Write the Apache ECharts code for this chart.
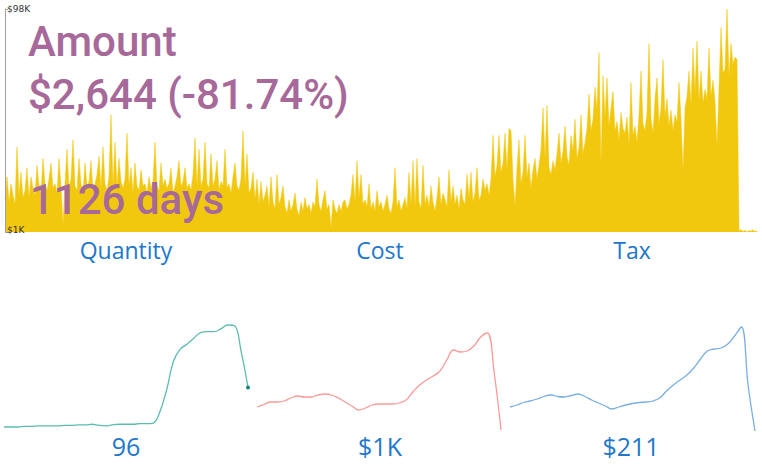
<!DOCTYPE html>
<html><head><meta charset="utf-8">
<script src="https://cdn.jsdelivr.net/npm/echarts@6/dist/echarts.min.js"></script>
<style>html,body{margin:0;padding:0;background:#fff}#c{width:762px;height:466px}</style>
</head><body><div id="c"></div>
<script>
// Daily amount (in $K), one sample per ~1.5 days over 1126 days
const amountK = [
15,25,14,22,17,13,38,17,27,16,
19,29,16,25,20,17,30,21,18,33,
22,19,24,31,20,22,18,33,21,4,
22,37,20,24,41,21,19,33,22,18,
31,21,23,32,19,22,26,34,20,38,
22,19,25,52,21,40,21,33,23,20,
24,44,21,29,18,31,21,19,28,21,
22,18,25,20,23,40,21,19,31,21,
24,20,22,29,18,21,25,32,21,23,
29,20,22,19,26,42,21,37,21,24,
40,22,20,35,21,24,32,19,23,21,
37,20,22,18,25,31,21,19,24,45,
21,35,18,20,27,15,24,13,23,14,
17,21,12,25,14,11,26,13,16,21,
12,9,15,10,13,18,11,8,14,10,
16,11,13,9,14,12,24,13,10,15,
19,11,13,3,15,11,9,13,10,14,
15,11,13,17,26,14,32,16,26,13,
15,12,22,11,14,10,19,12,14,10,
13,17,11,9,14,29,12,15,10,13,
16,11,27,13,32,12,33,14,11,30,
13,17,12,21,14,10,16,25,13,18,
15,12,28,14,21,13,17,11,20,15,
13,26,16,27,14,18,29,15,17,24,
19,22,17,24,43,25,30,43,27,31,
44,28,46,45,24,12,29,41,22,27,
43,25,31,20,28,33,24,30,37,55,
33,56,29,26,32,28,35,44,31,36,
47,34,30,43,36,50,33,38,52,35,
40,46,61,45,50,64,54,79,30,69,
51,68,47,55,62,45,49,41,53,46,
44,51,39,66,43,47,40,52,71,48,
45,53,83,50,44,59,68,48,55,76,
51,59,47,54,45,52,49,66,50,27,
55,60,71,56,81,62,84,58,71,57,
63,59,81,60,67,58,38,64,90,70,
72,98,69,83,74,77,76,
1.4,2.1,1.2,1.8,1.0,1.6,1.3,2.0,1.2,1.5
];
const amountTicks = [1, 98];

// Monthly sparklines (37 months)
const quantity = [24,24,24,25,25,26,26,26,26,27,27,28,28,29,27,26,28,29,29,29,30,30,31,52,92,144,166,175,186,196,198,198,203,210,209,161,96];
const cost = [5220,5670,6120,6120,6300,6840,7200,7020,7020,7380,7560,7380,6840,6120,5400,4680,5040,5580,5760,5760,5760,5940,6480,7920,9180,10080,10800,11700,13680,15480,15120,15300,16200,17820,18540,11340,1080];
const tax = [1080,1152,1242,1296,1368,1458,1512,1458,1440,1494,1548,1458,1332,1224,1116,1008,1080,1152,1206,1242,1260,1296,1404,1656,1872,2052,2232,2484,2808,3096,3168,3204,3348,3636,3960,1836,216];

const panelTitles = ['Quantity', 'Cost', 'Tax'];
const panelValues = ['96', '$1K', '$211'];
const headline = ['Amount', '$2,644 (-81.74%)', '1126 days'];

const dayIdx = amountK.map((_, i) => i);
const monthIdx = quantity.map((_, i) => i);

const chart = echarts.init(document.getElementById('c'), null, {renderer: 'svg'});
const purple = '#A66999', blue = '#2177CC';
const sparkAxisX = (g) => ({type: 'category', gridIndex: g, data: monthIdx, boundaryGap: false, show: false});
const sparkAxisY = (g) => ({type: 'value', gridIndex: g, min: 'dataMin', max: 'dataMax', show: false, scale: true});
const head = (i, x, y) => ({type: 'text', x: x, y: y, z: 100,
  style: {text: headline[i], fontFamily: 'Roboto', fontWeight: 500, fontSize: 42, fill: purple, verticalAlign: 'middle'}});
const lbl = (t, x, y, fs) => ({type: 'text', x: x, y: y, z: 100,
  style: {text: t, fontFamily: 'Open Sans', fontSize: fs, fill: blue, align: 'center', verticalAlign: 'middle'}});

chart.setOption({
  animation: false,
  grid: [
    {left: 5, right: 5, top: 9, bottom: 234},
    {left: 4, width: 244, top: 325, height: 102},
    {left: 257, width: 244, top: 333, height: 97},
    {left: 510, width: 245, top: 327, height: 104}
  ],
  xAxis: [
    {type: 'category', gridIndex: 0, data: dayIdx, boundaryGap: false, show: false},
    sparkAxisX(1), sparkAxisX(2), sparkAxisX(3)
  ],
  yAxis: [
    {type: 'value', gridIndex: 0, min: 1, max: 98, z: 50,
     axisLine: {show: true, lineStyle: {color: '#a0a0a0', width: 1}},
     axisTick: {show: true, inside: true, length: 3, customValues: amountTicks, lineStyle: {color: '#a0a0a0'}},
     splitLine: {show: false},
     axisLabel: {inside: true, margin: 2, customValues: amountTicks, fontSize: 9, color: '#333',
       fontFamily: 'DejaVu Sans',
       formatter: v => v === 1 ? '{b|$' + v + 'K}' : '{t|$' + v + 'K}',
       rich: {b: {fontSize: 9, padding: [0, 0, 5, 0], color: '#333', fontFamily: 'DejaVu Sans'},
              t: {fontSize: 9, color: '#333', fontFamily: 'DejaVu Sans'}}}},
    sparkAxisY(1), sparkAxisY(2), sparkAxisY(3)
  ],
  series: [
    {type: 'line', xAxisIndex: 0, yAxisIndex: 0, data: amountK, showSymbol: false, symbol: 'none',
     sampling: null, lineStyle: {width: 0.5, color: '#F2C80F'}, areaStyle: {color: '#F2C80F', opacity: 1}, z: 1, silent: true},
    {type: 'line', xAxisIndex: 1, yAxisIndex: 1, data: quantity, smooth: 0.4, clip: false, silent: true,
     symbol: 'circle', symbolSize: (v, p) => p.dataIndex === quantity.length - 1 ? 4 : 0,
     showAllSymbol: true,
     itemStyle: {color: '#11897C'}, lineStyle: {width: 1.3, color: '#5DBCAF'}},
    {type: 'line', xAxisIndex: 2, yAxisIndex: 2, data: cost, smooth: 0.4, clip: false, silent: true,
     symbol: 'none', lineStyle: {width: 1.3, color: '#FA9A98'}},
    {type: 'line', xAxisIndex: 3, yAxisIndex: 3, data: tax, smooth: 0.4, clip: false, silent: true,
     symbol: 'none', lineStyle: {width: 1.3, color: '#7AAEE2'}}
  ],
  graphic: [
    head(0, 28, 41), head(1, 28, 94), head(2, 30, 199),
    lbl(panelTitles[0], 126, 250, 23), lbl(panelTitles[1], 380, 250, 23), lbl(panelTitles[2], 632, 250, 23),
    lbl(panelValues[0], 126, 446, 25), lbl(panelValues[1], 380, 446, 25), lbl(panelValues[2], 631, 446, 25)
  ]
});
</script></body></html>
